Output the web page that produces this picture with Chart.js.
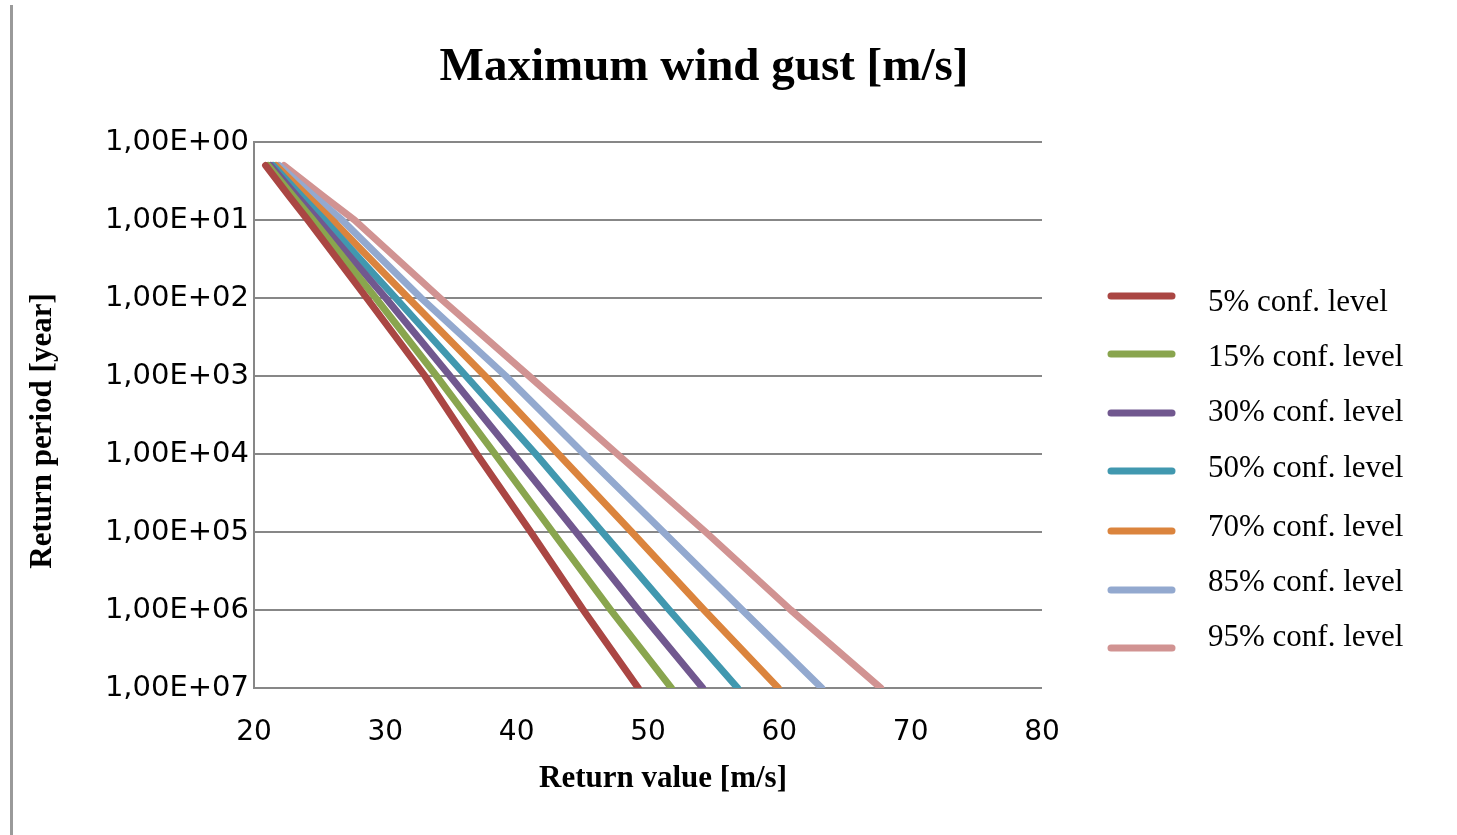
<!DOCTYPE html>
<html>
<head>
<meta charset="utf-8">
<script src="https://cdn.jsdelivr.net/npm/chart.js@4"></script>
<style>
  html, body { margin: 0; padding: 0; background: #fff; }
  #wrap { position: relative; width: 1457px; height: 835px; }
  #edge { position: absolute; left: 10px; top: 5px; width: 3px; height: 830px; background: #9a9a9a; }
  canvas { position: absolute; left: 0; top: 0; }
</style>
</head>
<body>
<div id="wrap">
  <canvas id="c" width="1457" height="835"></canvas>
  <div id="edge"></div>
</div>
<script>
// ---- data ----
const returnPeriods = [2, 5, 10, 100, 1e3, 1e4, 1e5, 1e6, 1e7];
const seriesNames = ["5% conf. level", "15% conf. level", "30% conf. level", "50% conf. level", "70% conf. level", "85% conf. level", "95% conf. level"];
const conf05 = [20.88, 22.70, 24.10, 28.58, 33.02, 36.96, 41.07, 45.07, 49.26];
const conf15 = [21.07, 23.00, 24.50, 29.27, 33.90, 38.35, 42.74, 47.16, 51.78];
const conf30 = [21.26, 23.30, 24.90, 30.03, 34.92, 39.74, 44.52, 49.26, 54.17];
const conf50 = [21.45, 23.65, 25.35, 30.79, 36.14, 41.45, 46.52, 51.62, 56.83];
const conf70 = [21.68, 24.10, 25.95, 31.75, 37.59, 43.17, 48.76, 54.27, 59.92];
const conf85 = [21.90, 24.60, 26.70, 32.72, 39.17, 45.13, 51.17, 57.18, 63.23];
const conf95 = [22.28, 25.30, 27.65, 34.16, 40.94, 47.66, 54.39, 60.87, 67.72];
const yTickValues = [1, 10, 100, 1e3, 1e4, 1e5, 1e6, 1e7];
const xTickValues = [20, 30, 40, 50, 60, 70, 80];
const colors = ["#AA4643", "#89A54E", "#71588F", "#4198AF", "#DB843D", "#93A9CF", "#D19392"];

const allSeries = [conf05, conf15, conf30, conf50, conf70, conf85, conf95];

function fmtExp(v) {
  const e = Math.round(Math.log10(v));
  return "1,00E+" + (e < 10 ? "0" + e : "" + e);
}

const datasets = allSeries.map((s, i) => ({
  label: seriesNames[i],
  data: s.map((x, k) => ({ x: x, y: returnPeriods[k] })),
  borderColor: colors[i],
  backgroundColor: colors[i],
  borderWidth: 7,
  borderCapStyle: 'round',
  borderJoinStyle: 'round',
  pointRadius: 0,
  showLine: true,
  tension: 0,
  fill: false
}));

const customDecor = {
  id: 'customDecor',
  afterDraw(chart) {
    const ctx = chart.ctx;
    ctx.save();
    ctx.fillStyle = '#000';
    // title
    ctx.font = 'bold 47px "Liberation Serif"';
    ctx.textAlign = 'center';
    ctx.textBaseline = 'middle';
    ctx.fillText('Maximum wind gust [m/s]', 704, 68);
    // axis titles
    ctx.font = 'bold 31px "Liberation Serif"';
    ctx.fillText('Return value [m/s]', 663, 779);
    ctx.save();
    ctx.translate(43, 431);
    ctx.rotate(-Math.PI / 2);
    ctx.fillText('Return period [year]', 0, 0);
    ctx.restore();
    // legend
    const lineY = [296, 354, 413, 471, 531, 590, 648];
    const textY = [303, 358, 413, 469, 528, 583, 638];
    chart.data.datasets.forEach((ds, i) => {
      ctx.strokeStyle = ds.borderColor;
      ctx.lineWidth = 7;
      ctx.lineCap = 'round';
      ctx.beginPath();
      ctx.moveTo(1111, lineY[i]);
      ctx.lineTo(1172, lineY[i]);
      ctx.stroke();
      ctx.fillStyle = '#000';
      ctx.font = '31px "Liberation Serif"';
      ctx.textAlign = 'left';
      ctx.textBaseline = 'middle';
      ctx.fillText(ds.label, 1208, textY[i]);
    });
    ctx.restore();
  }
};

new Chart(document.getElementById('c'), {
  type: 'scatter',
  data: { datasets },
  options: {
    responsive: false,
    animation: false,
    devicePixelRatio: 1,
    layout: { padding: { left: 0, top: 142, right: 415, bottom: 0 } },
    plugins: { legend: { display: false }, title: { display: false }, tooltip: { enabled: false } },
    scales: {
      x: {
        type: 'linear',
        min: 20, max: 80,
        afterBuildTicks: (s) => { s.ticks = xTickValues.map(v => ({ value: v })); },
        afterFit: (s) => { s.height = 147; },
        grid: { display: false, drawTicks: false },
        border: { display: false },
        ticks: { color: '#000', font: { family: 'DejaVu Sans', size: 28 }, padding: 28 },
        title: { display: false }
      },
      y: {
        type: 'logarithmic',
        reverse: true,
        min: 1, max: 1e7,
        afterBuildTicks: (s) => { s.ticks = yTickValues.map(v => ({ value: v })); },
        afterFit: (s) => { s.width = 254; },
        grid: { color: '#878787', lineWidth: 2, drawTicks: false },
        border: { display: true, color: '#878787', width: 2 },
        ticks: { color: '#000', font: { family: 'DejaVu Sans', size: 29 }, padding: 5, callback: (v) => fmtExp(v) },
        title: { display: false }
      }
    }
  },
  plugins: [customDecor]
});
</script>
</body>
</html>
